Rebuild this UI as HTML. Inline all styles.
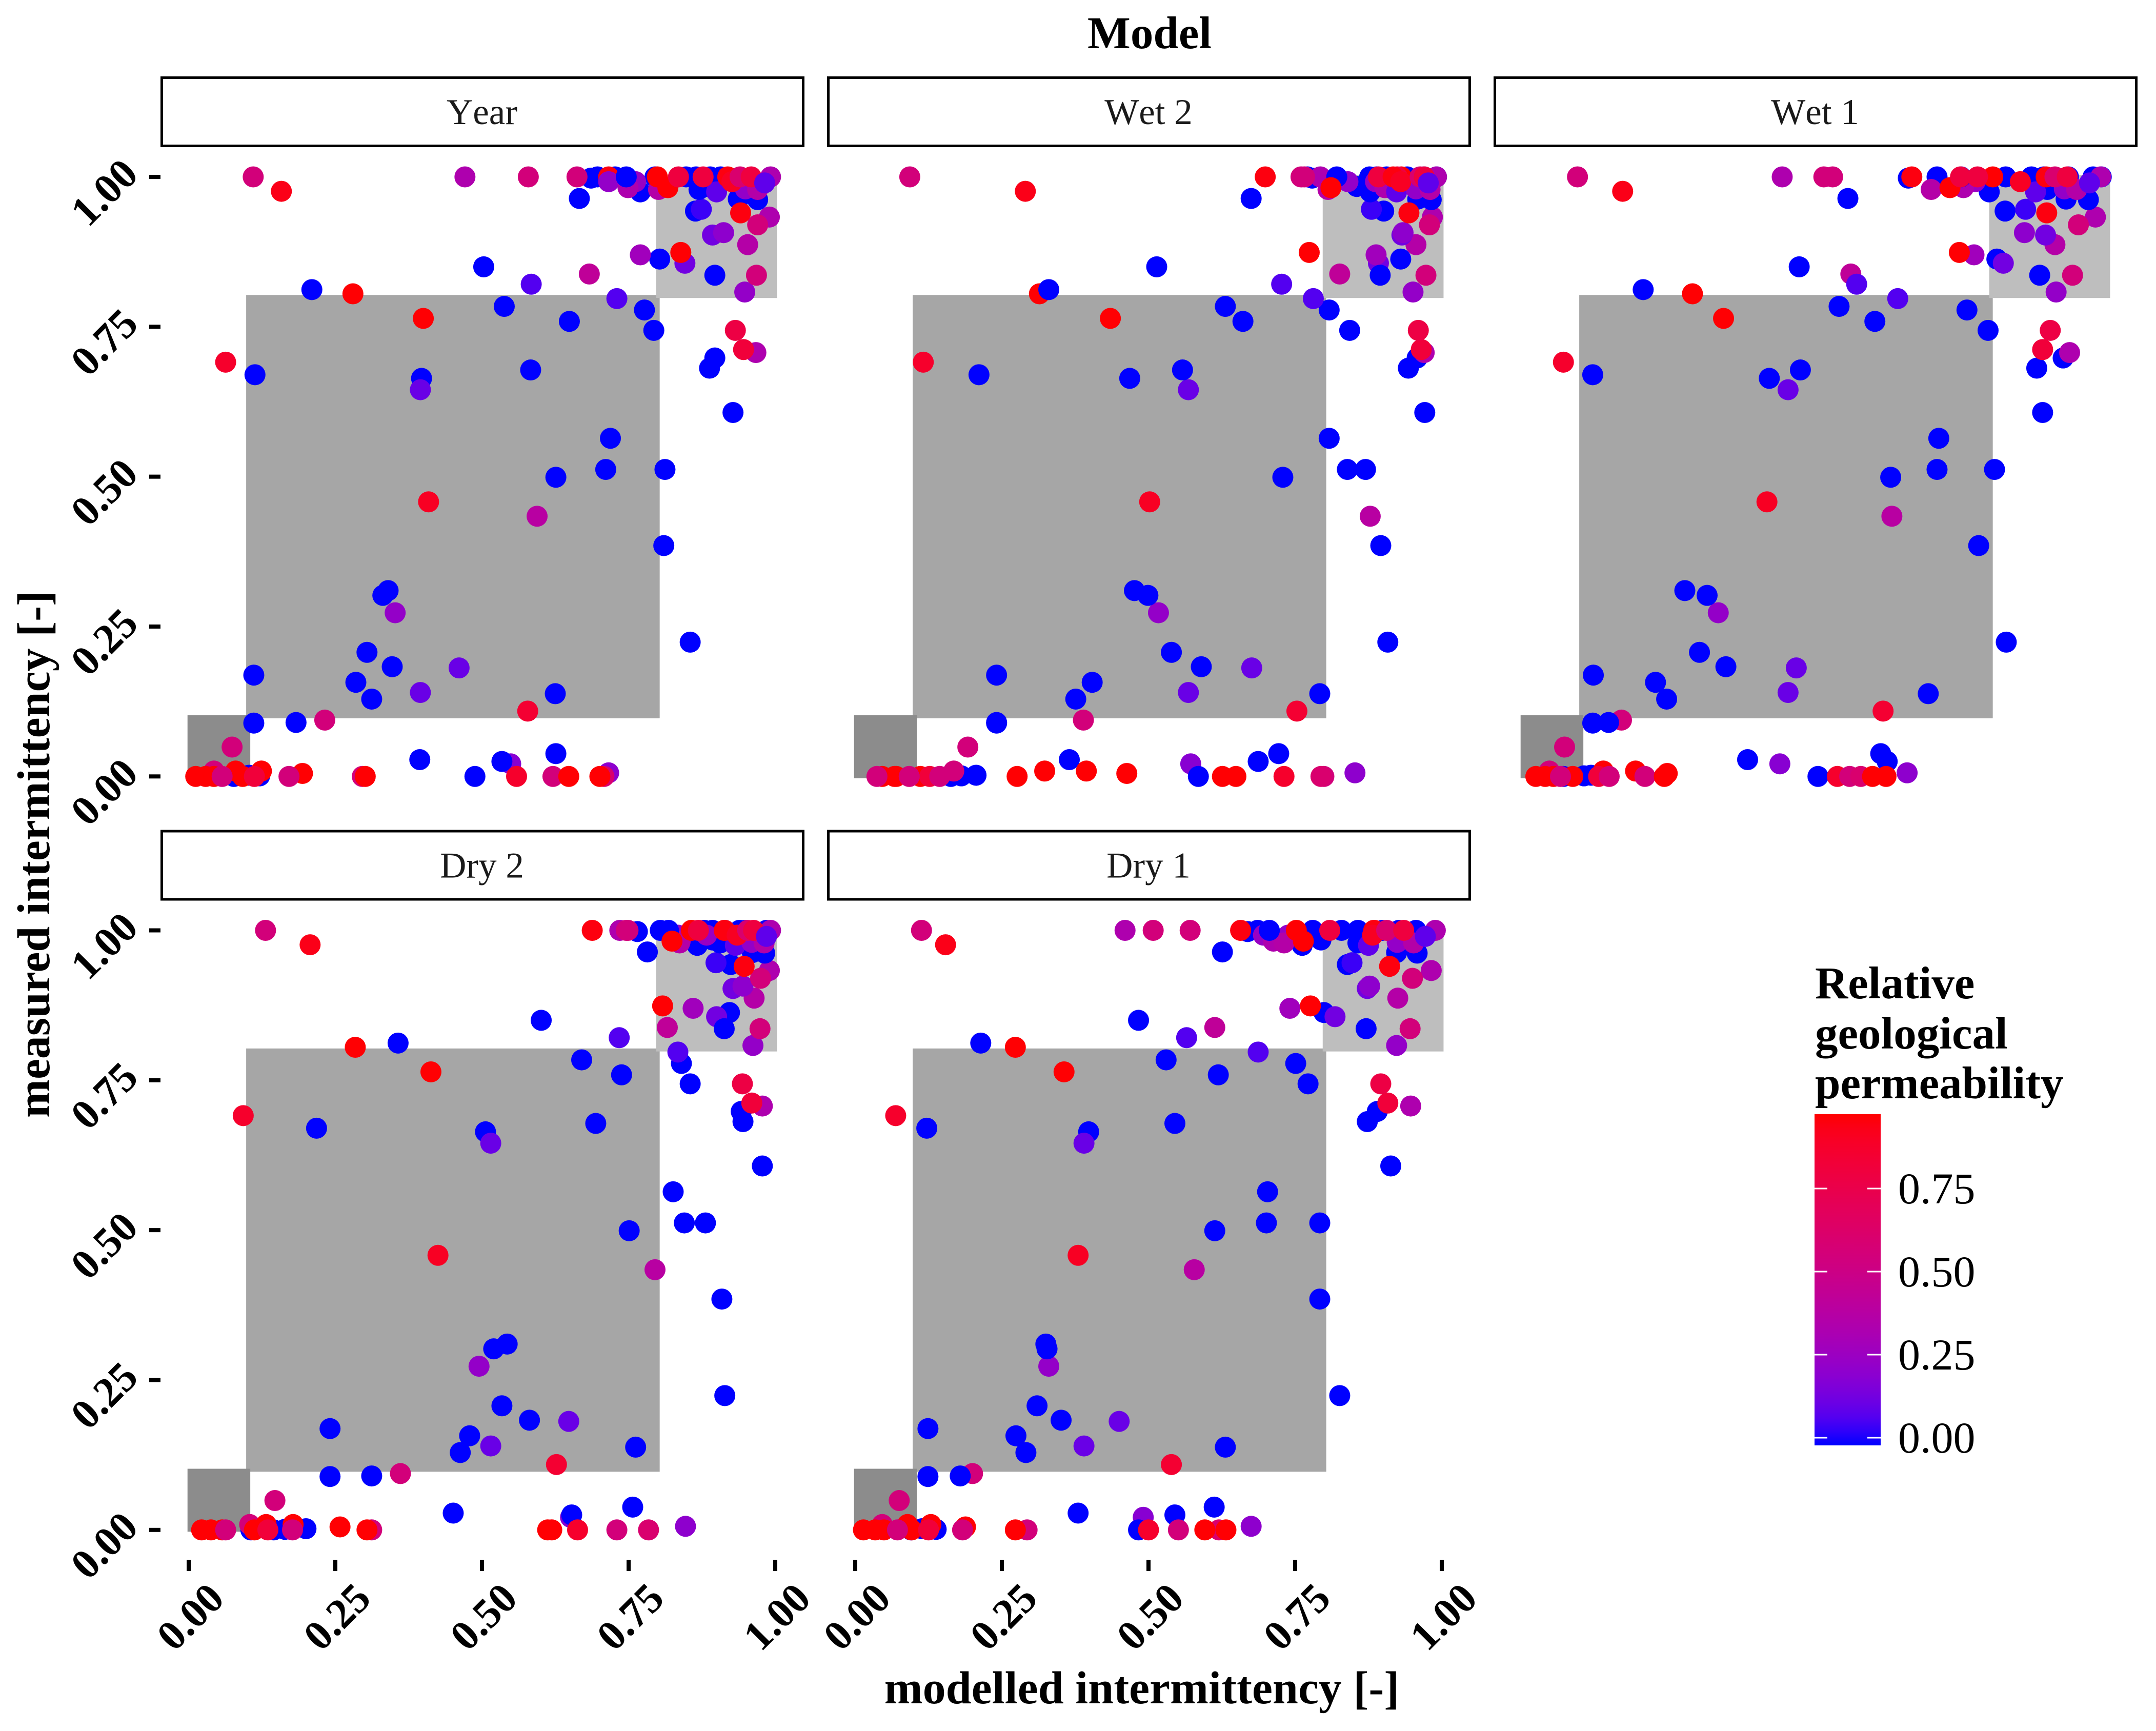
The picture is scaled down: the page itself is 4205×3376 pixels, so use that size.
<!DOCTYPE html>
<html lang="en">
<head>
<meta charset="utf-8">
<title>Model: measured vs modelled intermittency</title>
<style>
html,body{margin:0;padding:0;background:#fff;}
svg{display:block;font-family:"Liberation Serif",serif;}
</style>
</head>
<body>
<svg id="chart" xmlns="http://www.w3.org/2000/svg" width="4205" height="3376" viewBox="0 0 4205 3376">
<rect x="0" y="0" width="4205" height="3376" fill="#ffffff"/>
<defs><linearGradient id="legendGradient" x1="0" y1="1" x2="0" y2="0"></linearGradient></defs>
<text x="2242" y="94" font-size="89" font-weight="bold" text-anchor="middle">Model</text>
<text transform="translate(96 1666) rotate(-90)" font-size="90" font-weight="bold" text-anchor="middle">measured intermittency [-]</text>
<text x="2227" y="3322" font-size="90" font-weight="bold" text-anchor="middle">modelled intermittency [-]</text>
<text x="3540" y="1947" font-size="89" font-weight="bold">Relative</text>
<text x="3540" y="2045" font-size="89" font-weight="bold">geological</text>
<text x="3540" y="2142" font-size="89" font-weight="bold">permeability</text>
<g id="panels"></g>
<g id="legend"></g>
</svg>
<script>
const axisTicks = [0, 0.25, 0.5, 0.75, 1];
const axisTickLabels = ['0.00', '0.25', '0.50', '0.75', '1.00'];
const legendTicks = [0, 0.25, 0.5, 0.75];
const legendTickLabels = ['0.00', '0.25', '0.50', '0.75'];
const permeabilityLimits = [-0.023, 0.974];

const zoneLow = [-0.002, 0.105, -0.003, 0.102];
const zoneMid = [0.098, 0.803, 0.097, 0.803];
const zoneHigh = [0.797, 1.003, 0.798, 1.003];

const measured = [
.976,.964,.691,.670,.049,.094,.089,.090,.169,.109,
.138,.140,.129,.157,.181,.183,.207,.224,.273,.302,
.310,.385,.434,.458,.499,.512,.512,.564,.607,.664,
.645,.678,.681,.698,.707,.712,.744,.744,.759,.764,
.778,.784,.797,.805,.808,.812,.838,.821,.863,.856,
.870,.836,.836,.850,.874,.887,.903,.907,.933,.920,
.943,.946,.963,.962,.940,
1,.998,1,1,1,1,1,1,
.984,.975,.979,
1,1,1,1,1,
.992,.992,.982,.979,.975,.980,.979,1,
1,1,.982,1,1,1,.992,1,1,.990,
.028,.038,.021,.025,.006,0,.002,.001,0,.009,
.009,.009,.005,0,0,0,0,0,0,0,0,0,0,0,0,0,0
];

const permeability = [
.93,0,.87,0,.55,.55,0,0,0,.85,
0,.1,0,0,.1,0,0,0,.22,0,
0,0,.38,.9,0,0,0,0,0,0,
.1,0,0,0,.33,.82,.78,0,0,.97,
0,0,.06,.97,.22,0,.42,.06,0,.12,
.27,0,.55,0,.97,.36,.12,.2,.33,.55,
0,.03,0,0,.95,
0,0,0,0,0,0,0,0,
0,0,0,
.55,.33,.55,.55,.95,
.22,.24,.33,.36,.08,.22,.36,.33,
0,.97,.97,.8,.8,.95,.9,.6,.8,.08,
0,0,.18,0,.2,0,0,0,0,.55,
.97,.97,.97,.97,.97,.97,.97,.55,.82,.55,.55,.97,.87,.55,.6,.97,.97
];

const modelledYear = [
.158,.666,.063,.113,.074,.232,.111,.183,.111,.578,
.625,.395,.312,.285,.461,.347,.304,.855,.352,.331,
.340,.810,.594,.409,.626,.711,.812,.719,.928,.397,
.395,.583,.888,.897,.967,.946,.932,.793,.649,.400,
.777,.538,.730,.280,.948,.210,.683,.584,.803,.846,
.770,.897,.968,.503,.839,.953,.893,.912,.990,.970,
.864,.874,.937,.970,.941,
.697,.686,.727,.795,.848,.865,.889,.907,
.886,.770,.870,
.110,.471,.579,.662,.716,
.716,.762,.749,.801,.900,.949,.970,.992,
.746,.799,.817,.835,.877,.919,.926,.940,.959,.982,
.394,.626,.549,.534,.716,.488,.103,.121,.077,.043,
.080,.124,.194,.012,.029,.043,.092,.057,.112,.296,.171,.301,.559,.621,.708,.701,.648
];

const modelledWet2 = [
.290,.675,.116,.211,.192,.389,.241,.241,.241,.753,
.792,.568,.376,.404,.676,.590,.539,.908,.517,.499,
.476,.896,.878,.502,.729,.839,.870,.808,.971,.468,
.568,.558,.943,.958,.970,.965,.960,.843,.661,.435,
.808,.631,.781,.314,.951,.330,.826,.727,.930,.892,
.888,.895,.973,.514,.774,.956,.932,.934,.984,.979,
.901,.880,.959,.982,.944,
.771,.779,.877,.889,.906,.941,.970,.991,
.855,.878,.918,
.093,.793,.760,.766,.699,
.840,.887,.903,.806,.923,.956,.980,.991,
.821,.931,.811,.892,.924,.917,.930,.963,.970,.977,
.365,.722,.572,.687,.852,.585,.206,.181,.163,.168,
.323,.394,.463,.070,.046,.067,.111,.037,.127,.092,.144,.276,.731,.799,.794,.626,.649
];

const modelledWet1 = [
.172,.556,.071,.121,.073,.170,.121,.148,.122,.616,
.693,.454,.247,.228,.468,.348,.303,.826,.335,.316,
.278,.779,.631,.418,.629,.708,.806,.711,.888,.422,
.454,.475,.878,.923,.934,.888,.901,.795,.602,.344,
.759,.541,.641,.291,.911,.207,.561,.571,.810,.821,
.771,.883,.939,.473,.746,.909,.893,.857,.978,.949,
.824,.859,.928,.966,.895,
.708,.659,.825,.869,.890,.932,.974,.988,
.876,.797,.896,
.095,.444,.515,.530,.665,
.754,.773,.753,.698,.876,.925,.946,.987,
.749,.803,.730,.748,.777,.894,.850,.909,.930,.968,
.385,.612,.440,.623,.657,.505,.118,.106,.071,.047,
.139,.194,.248,.024,.040,.054,.087,.066,.131,.149,.210,.243,.538,.559,.578,.621,.598
];

const modelledDry2 = [
.207,.782,.093,.218,.147,.361,.241,.312,.241,.627,
.762,.515,.463,.479,.648,.581,.534,.914,.495,.520,
.543,.909,.795,.425,.751,.845,.881,.826,.978,.506,
.515,.694,.945,.942,.978,.960,.944,.855,.738,.413,
.840,.670,.834,.284,.962,.357,.816,.734,.922,.900,
.860,.913,.974,.601,.808,.964,.928,.945,.990,.975,
.924,.899,.961,.982,.947,
.804,.765,.879,.893,.914,.939,.949,.985,
.893,.867,.906,
.131,.735,.746,.749,.688,
.834,.883,.838,.837,.932,.960,.981,.992,
.818,.857,.824,.869,.914,.913,.935,.953,.963,.985,
.451,.757,.651,.653,.847,.106,.200,.164,.145,.104,
.132,.178,.258,.022,.038,.057,.112,.063,.135,.312,.177,.304,.663,.730,.784,.612,.619
];

const modelledDry1 = [
.154,.626,.069,.122,.075,.200,.124,.179,.124,.539,
.631,.390,.291,.274,.450,.351,.310,.826,.330,.327,
.325,.792,.578,.380,.613,.701,.792,.703,.913,.398,
.390,.545,.873,.890,.947,.908,.896,.772,.619,.356,
.751,.530,.687,.273,.923,.214,.613,.565,.799,.818,
.741,.871,.946,.483,.776,.925,.873,.877,.982,.950,
.839,.847,.923,.958,.911,
.686,.669,.780,.829,.857,.899,.927,.956,
.794,.762,.857,
.113,.460,.508,.571,.657,
.738,.696,.713,.731,.875,.924,.952,.989,
.706,.752,.764,.809,.885,.884,.882,.906,.935,.972,
.380,.612,.491,.545,.675,.483,.114,.138,.095,.046,
.089,.129,.188,.014,.034,.049,.096,.072,.125,.293,.183,.273,.500,.551,.620,.632,.596
];

const panelTitles = ['Year', 'Wet 2', 'Wet 1', 'Dry 2', 'Dry 1'];
const panelSeries = [modelledYear, modelledWet2, modelledWet1, modelledDry2, modelledDry1];

const NS = 'http://www.w3.org/2000/svg';
const PANEL_COL_STEP = 1300, PANEL_ROW_STEP = 1469.5, COLS = 3;
const X_ORIGIN = 368, X_SCALE = 1144, Y_ORIGIN = 1514.3, Y_SCALE = 1169.3;
const STRIP_LEFT = 313, STRIP_WIDTH = 1256, STRIP_TOP = 149, STRIP_HEIGHT = 138;
const POINT_RADIUS = 20.5;

function labToHex(L, a, b) {
  const fy = (L + 16) / 116, fx = fy + a / 500, fz = fy - b / 200;
  const inv = t => (t > 6 / 29) ? t * t * t : 3 * (6 / 29) * (6 / 29) * (t - 4 / 29);
  const X = 0.95047 * inv(fx), Y = inv(fy), Z = 1.08883 * inv(fz);
  const lin = [3.2406 * X - 1.5372 * Y - 0.4986 * Z, -0.9689 * X + 1.8758 * Y + 0.0415 * Z, 0.0557 * X - 0.2040 * Y + 1.0570 * Z];
  const ch = lin.map(v => {
    const c = Math.max(0, Math.min(1, v));
    const s = c <= 0.0031308 ? 12.92 * c : 1.055 * Math.pow(c, 1 / 2.4) - 0.055;
    return Math.round(s * 255).toString(16).padStart(2, '0');
  });
  return '#' + ch.join('');
}
function rampColor(t) {
  const k = Math.max(0, Math.min(1, t));
  return labToHex(32.30 + (53.24 - 32.30) * k, 79.19 + (80.09 - 79.19) * k, -107.86 + (67.20 + 107.86) * k);
}
function permeabilityColor(v) {
  return rampColor(v / permeabilityLimits[1]);
}
function make(tag, parent, attrs) {
  const el = document.createElementNS(NS, tag);
  for (const k in attrs) el.setAttribute(k, attrs[k]);
  parent.appendChild(el);
  return el;
}

const panelsRoot = document.getElementById('panels');

panelTitles.forEach(function (title, p) {
  const col = p % COLS, row = Math.floor(p / COLS);
  const xAxis = v => X_ORIGIN + col * PANEL_COL_STEP + X_SCALE * v;
  const yAxis = v => Y_ORIGIN + row * PANEL_ROW_STEP - Y_SCALE * v;
  const slug = title.toLowerCase().replace(' ', '-');
  const stripX = STRIP_LEFT + col * PANEL_COL_STEP;
  const stripY = STRIP_TOP + row * PANEL_ROW_STEP;

  const g = make('g', panelsRoot, {});
  
  

  const strip = make('rect', g, { x: stripX + 2.5, y: stripY + 2.5, width: STRIP_WIDTH - 5, height: STRIP_HEIGHT - 5, fill: '#ffffff', stroke: '#000000', 'stroke-width': 5 });
  
  

  const stripText = make('text', g, { x: stripX + STRIP_WIDTH / 2 - 1, y: stripY + 93, 'font-size': 71, 'text-anchor': 'middle', fill: '#1a1a1a', style: 'font-kerning:none' });
  stripText.textContent = title;
  
  

  const midZone = make('rect', g, { x: xAxis(zoneMid[0]), y: yAxis(zoneMid[3]), width: xAxis(zoneMid[1]) - xAxis(zoneMid[0]), height: yAxis(zoneMid[2]) - yAxis(zoneMid[3]), fill: '#a6a6a6' });
  
  

  const lowZone = make('rect', g, { x: xAxis(zoneLow[0]), y: yAxis(zoneLow[3]), width: xAxis(zoneLow[1]) - xAxis(zoneLow[0]), height: yAxis(zoneLow[2]) - yAxis(zoneLow[3]), fill: '#8c8c8c' });
  
  

  const highZone = make('rect', g, { x: xAxis(zoneHigh[0]), y: yAxis(zoneHigh[3]), width: xAxis(zoneHigh[1]) - xAxis(zoneHigh[0]), height: yAxis(zoneHigh[2]) - yAxis(zoneHigh[3]), fill: '#bebebe' });
  
  

  if (col === 0) {
    axisTicks.forEach(function (t, i) {
      const tick = make('rect', g, { x: STRIP_LEFT - 22, y: yAxis(t) - 4, width: 22, height: 8, fill: '#000000' });
      
      
      const label = make('text', g, { transform: 'translate(203 ' + (yAxis(t) + 30) + ') rotate(-45)', 'font-size': 82, 'font-weight': 'bold', 'text-anchor': 'middle', dy: 27.5 });
      label.textContent = axisTickLabels[i];
      
      
    });
  }
  if (row === 1) {
    axisTicks.forEach(function (t, i) {
      const tick = make('rect', g, { x: xAxis(t) - 4, y: 3042, width: 8, height: 22, fill: '#000000' });
      
      
      const label = make('text', g, { transform: 'translate(' + (xAxis(t) + 3) + ' 3153) rotate(-45)', 'font-size': 82, 'font-weight': 'bold', 'text-anchor': 'middle', dy: 27.5 });
      label.textContent = axisTickLabels[i];
      
      
    });
  }

  panelSeries[p].forEach(function (x, i) {
    const dot = make('circle', g, { cx: xAxis(x), cy: yAxis(measured[i]), r: POINT_RADIUS, fill: permeabilityColor(permeability[i]) });
    
    
  });
});

(function () {
  const legend = document.getElementById('legend');
  const gradient = document.getElementById('legendGradient');
  for (let i = 0; i <= 24; i++) {
    const stop = document.createElementNS(NS, 'stop');
    const value = permeabilityLimits[0] + (i / 24) * (permeabilityLimits[1] - permeabilityLimits[0]);
    stop.setAttribute('offset', (i / 24 * 100) + '%');
    stop.setAttribute('stop-color', permeabilityColor(value));
    gradient.appendChild(stop);
  }
  const LEGEND_ZERO = 2804, LEGEND_SCALE = 648, BAR_LEFT = 3539, BAR_WIDTH = 129;
  const legendAxis = v => LEGEND_ZERO - LEGEND_SCALE * v;
  const barTop = legendAxis(permeabilityLimits[1]);
  const barBottom = legendAxis(permeabilityLimits[0]);
  const bar = make('rect', legend, { x: BAR_LEFT, y: barTop, width: BAR_WIDTH, height: barBottom - barTop, fill: 'url(#legendGradient)' });
  
  
  legendTicks.forEach(function (t, i) {
    const left = make('rect', legend, { x: BAR_LEFT, y: legendAxis(t) - 1.5, width: 25, height: 3, fill: '#ffffff' });
    
    
    const right = make('rect', legend, { x: BAR_LEFT + BAR_WIDTH - 26, y: legendAxis(t) - 1.5, width: 26, height: 3, fill: '#ffffff' });
    
    
    const label = make('text', legend, { x: 3702, y: legendAxis(t) + 29, 'font-size': 86 });
    label.textContent = legendTickLabels[i];
    
    
  });
})();
</script>
</body>
</html>
